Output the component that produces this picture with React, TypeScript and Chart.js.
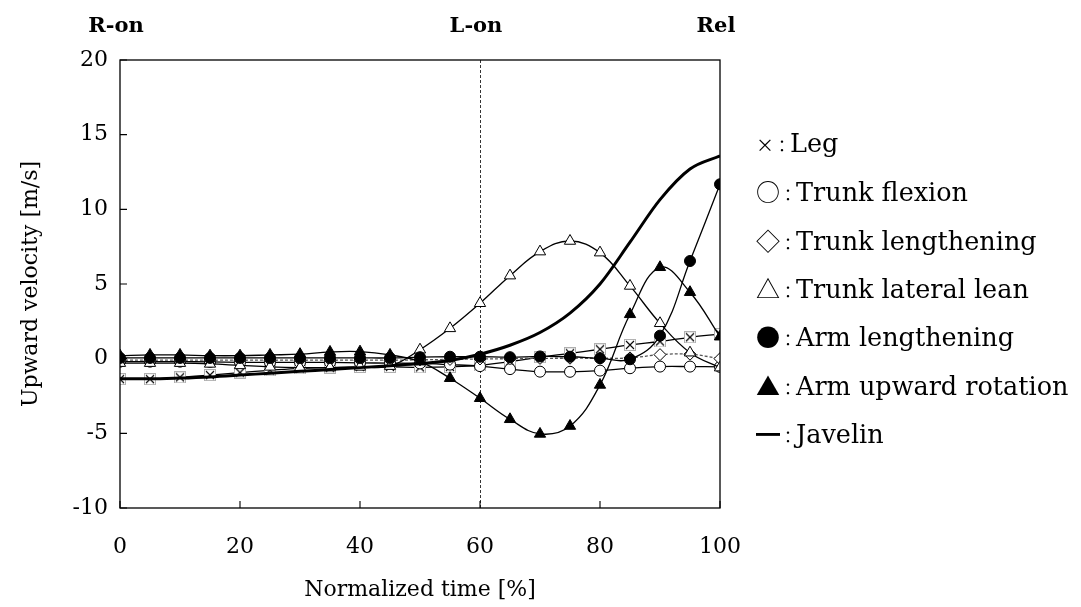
import React, { useEffect, useRef } from "react";
import { Chart, registerables } from "chart.js";

Chart.register(...registerables);

const timePct = [0, 5, 10, 15, 20, 25, 30, 35, 40, 45, 50, 55, 60, 65, 70, 75, 80, 85, 90, 95, 100];

const leg = [-1.37, -1.37, -1.25, -1.1, -0.93, -0.78, -0.65, -0.6, -0.55, -0.55, -0.58, -0.55, -0.45, -0.2, 0.1, 0.36, 0.63, 0.92, 1.15, 1.43, 1.65];
const trunkFlexion = [-0.2, -0.2, -0.2, -0.22, -0.25, -0.25, -0.25, -0.25, -0.28, -0.3, -0.32, -0.4, -0.5, -0.7, -0.87, -0.88, -0.8, -0.64, -0.53, -0.53, -0.55];
const trunkLengthening = [-0.1, -0.1, -0.1, -0.1, -0.1, -0.1, -0.1, -0.1, -0.1, -0.1, -0.08, -0.05, -0.02, 0.0, 0.02, 0.03, 0.03, 0.05, 0.27, 0.3, 0.0];
const trunkLateralLean = [-0.3, -0.3, -0.3, -0.35, -0.45, -0.55, -0.6, -0.6, -0.55, -0.5, 0.6, 2.03, 3.71, 5.56, 7.17, 7.88, 7.1, 4.87, 2.37, 0.4, -0.6];
const armLengthening = [0.05, 0.05, 0.05, 0.05, 0.05, 0.05, 0.05, 0.05, 0.05, 0.05, 0.1, 0.13, 0.13, 0.1, 0.15, 0.13, 0.03, -0.04, 1.54, 6.54, 11.68];
const armUpwardRotation = [0.2, 0.25, 0.25, 0.2, 0.2, 0.25, 0.3, 0.45, 0.47, 0.25, -0.2, -1.31, -2.65, -4.06, -5.04, -4.51, -1.76, 2.97, 6.12, 4.45, 1.47];
const javelin = [-1.35, -1.35, -1.3, -1.22, -1.1, -0.97, -0.85, -0.72, -0.6, -0.47, -0.33, -0.12, 0.3, 0.9, 1.75, 3.05, 5.0, 7.8, 10.65, 12.7, 13.58];

const phaseLabels = ["R-on", "L-on", "Rel"];
const phaseTimes = [0, 60, 100];

const legendItems = [
  { sym: "×", text: "Leg" },
  { sym: "○", text: "Trunk flexion" },
  { sym: "◇", text: "Trunk lengthening" },
  { sym: "△", text: "Trunk lateral lean" },
  { sym: "●", text: "Arm lengthening" },
  { sym: "▲", text: "Arm upward rotation" },
  { sym: "━", text: "Javelin" },
];

const SERIF = "'DejaVu Serif', 'Liberation Serif', serif";
const CJK = "'Noto Sans CJK JP', sans-serif";

function makeCrossMarker(): HTMLCanvasElement {
  const c = document.createElement("canvas");
  c.width = 12;
  c.height = 12;
  const g = c.getContext("2d")!;
  g.fillStyle = "#fff";
  g.fillRect(0.5, 0.5, 11, 11);
  g.strokeStyle = "#b0b0b0";
  g.lineWidth = 1;
  g.strokeRect(0.5, 0.5, 11, 11);
  g.strokeStyle = "#000";
  g.lineWidth = 1.1;
  g.beginPath();
  g.moveTo(2, 2);
  g.lineTo(10, 10);
  g.moveTo(10, 2);
  g.lineTo(2, 10);
  g.stroke();
  return c;
}

const toXY = (ys: number[]) => ys.map((y, i) => ({ x: timePct[i], y }));

const decorPlugin = {
  id: "decor",
  beforeDatasetsDraw(chart: any) {
    const { ctx, chartArea: a, scales } = chart;
    const x60 = scales.x.getPixelForValue(60);
    ctx.save();
    ctx.strokeStyle = "#000";
    ctx.lineWidth = 0.8;
    ctx.setLineDash([3, 2]);
    ctx.beginPath();
    ctx.moveTo(Math.round(x60) + 0.5, a.top);
    ctx.lineTo(Math.round(x60) + 0.5, a.bottom);
    ctx.stroke();
    ctx.restore();
  },
  afterDraw(chart: any) {
    const { ctx, chartArea: a, scales } = chart;
    ctx.save();
    ctx.strokeStyle = "#000";
    ctx.lineWidth = 1.3;
    ctx.strokeRect(a.left, a.top, a.right - a.left, a.bottom - a.top);
    ctx.lineWidth = 1.1;
    ctx.beginPath();
    scales.y.ticks.forEach((t: any) => {
      const py = scales.y.getPixelForValue(t.value);
      ctx.moveTo(a.left, py);
      ctx.lineTo(a.left + 7, py);
    });
    scales.x.ticks.forEach((t: any) => {
      const px = scales.x.getPixelForValue(t.value);
      ctx.moveTo(px, a.bottom);
      ctx.lineTo(px, a.bottom - 7);
    });
    ctx.stroke();
    ctx.fillStyle = "#000";
    ctx.font = "bold 21px " + SERIF;
    ctx.textAlign = "center";
    ctx.textBaseline = "middle";
    phaseLabels.forEach((lab, i) => {
      const px = scales.x.getPixelForValue(phaseTimes[i]);
      ctx.fillText(lab, px - 4, 27);
    });
    ctx.restore();
  },
};

export default function App() {
  const ref = useRef<HTMLCanvasElement>(null);
  useEffect(() => {
    const cross = makeCrossMarker();
    const base = {
      borderColor: "#000",
      borderWidth: 1.3,
      pointBorderColor: "#000",
      pointBorderWidth: 1,
      pointRadius: 5.5,
      tension: 0.4,
      fill: false,
    };
    const chart = new Chart(ref.current!, {
      type: "line",
      data: {
        datasets: [
          { ...base, label: "Leg", data: toXY(leg), pointStyle: cross as any, pointRadius: 6, order: 7 },
          { ...base, label: "Trunk flexion", data: toXY(trunkFlexion), pointStyle: "circle", pointBackgroundColor: "#fff", order: 6 },
          { ...base, label: "Trunk lengthening", data: toXY(trunkLengthening), pointStyle: "rectRot", pointBackgroundColor: "#fff", pointRadius: 6, borderDash: [3, 2], borderColor: "#555", order: 5 },
          { ...base, label: "Trunk lateral lean", data: toXY(trunkLateralLean), pointStyle: "triangle", pointBackgroundColor: "#fff", pointRadius: 6.5, order: 4 },
          { ...base, label: "Arm lengthening", data: toXY(armLengthening), pointStyle: "circle", pointBackgroundColor: "#000", order: 3 },
          { ...base, label: "Arm upward rotation", data: toXY(armUpwardRotation), pointStyle: "triangle", pointBackgroundColor: "#000", pointRadius: 6.5, order: 2 },
          { ...base, label: "Javelin", data: toXY(javelin), borderWidth: 3, pointRadius: 0, cubicInterpolationMode: "monotone", order: 1 },
        ],
      },
      options: {
        animation: false,
        responsive: true,
        maintainAspectRatio: false,
        layout: { padding: { top: 60, right: 361, left: 18, bottom: 0 } },
        plugins: { legend: { display: false }, tooltip: { enabled: false } },
        scales: {
          x: {
            type: "linear",
            min: 0,
            max: 100,
            ticks: { stepSize: 20, color: "#000", font: { family: SERIF, size: 22 }, padding: 26, maxRotation: 0 },
            grid: { display: false, drawTicks: false },
            border: { display: false },
            title: { display: true, text: "Normalized time [%]", color: "#000", font: { family: SERIF, size: 22 }, padding: { top: 6, bottom: 4 } },
            afterFit: (s: any) => { s.height = 99; },
          },
          y: {
            min: -10,
            max: 20,
            ticks: { stepSize: 5, color: "#000", font: { family: SERIF, size: 22 }, padding: 12 },
            grid: { display: false, drawTicks: false },
            border: { display: false },
            title: { display: true, text: "Upward velocity [m/s]", color: "#000", font: { family: SERIF, size: 22 }, padding: { top: 0, bottom: 6 } },
            afterFit: (s: any) => { s.width = 102; },
          },
        },
      },
      plugins: [decorPlugin],
    });
    return () => chart.destroy();
  }, []);

  return (
    <div style={{ position: "absolute", left: 0, top: 0, width: 1081, height: 607, background: "#fff" }}>
      <canvas ref={ref} />
      <div style={{ position: "absolute", left: 756, top: 0 }}>
        {legendItems.map((it, i) => (
          <div
            key={it.text}
            style={{
              position: "absolute",
              left: 0,
              top: 143 + i * 48.3 - 17,
              whiteSpace: "nowrap",
              fontFamily: SERIF,
              fontSize: 25.5,
              lineHeight: "34px",
              color: "#000",
            }}
          >
            <span style={{ fontFamily: CJK, fontSize: it.sym === "×" ? 18 : 24 }}>{it.sym}</span>
            <span style={{ fontFamily: CJK, fontSize: 16 }}>：</span>
            <span>{it.text}</span>
          </div>
        ))}
      </div>
    </div>
  );
}
